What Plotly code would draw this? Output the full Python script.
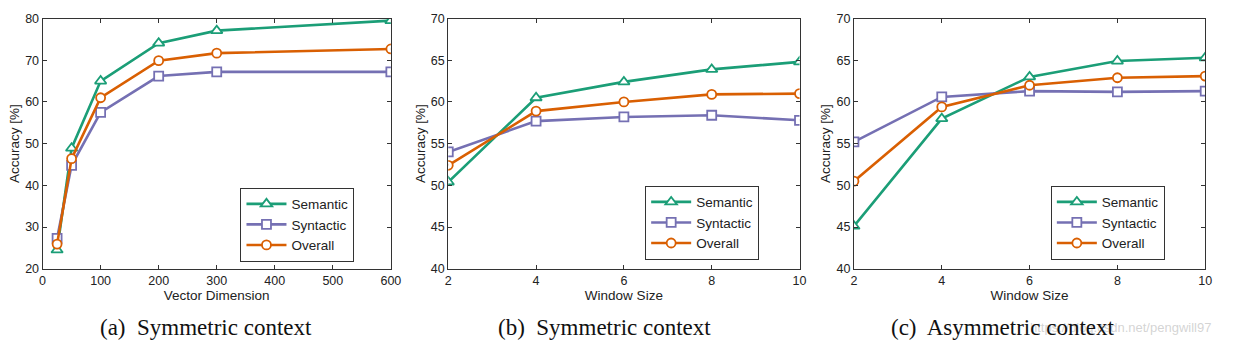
import plotly.graph_objects as go

# ---- data ----
dims = [25, 50, 100, 200, 300, 600]
sem_a = [24.5, 48.9, 65.0, 74.1, 77.1, 79.5]
syn_a = [27.3, 44.8, 57.5, 66.2, 67.2, 67.2]
ovr_a = [25.9, 46.4, 61.0, 69.9, 71.7, 72.7]

win = [2, 4, 6, 8, 10]
sem_b = [50.4, 60.5, 62.4, 63.9, 64.8]
syn_b = [54.0, 57.7, 58.2, 58.4, 57.8]
ovr_b = [52.4, 58.9, 60.0, 60.9, 61.0]

sem_c = [45.1, 58.0, 63.0, 64.9, 65.3]
syn_c = [55.2, 60.6, 61.3, 61.2, 61.3]
ovr_c = [50.5, 59.4, 62.0, 62.9, 63.1]

series_names = ["Semantic", "Syntactic", "Overall"]
colors = ["#1b9e77", "#7570b3", "#d95f02"]
symbols = ["triangle-up", "square", "circle"]
captions = ["(a)  Symmetric context", "(b)  Symmetric context", "(c)  Asymmetric context"]
xtitles = ["Vector Dimension", "Window Size", "Window Size"]

W, H = 1234, 354
panels = [
    (dims, [sem_a, syn_a, ovr_a], (40, 392), [0, 600], list(range(0, 601, 100)), [20, 80], list(range(20, 81, 10)), (240, 188)),
    (win, [sem_b, syn_b, ovr_b], (450, 805), [2, 10], win, [40, 70], list(range(40, 71, 5)), (649, 186)),
    (win, [sem_c, syn_c, ovr_c], (860, 1215), [2, 10], win, [40, 70], list(range(40, 71, 5)), (1059, 186)),
]
top_px, bot_px = 12, 272.5

fig = go.Figure()
layout = {}
sans = "Liberation Sans, Arial, sans-serif"
tickfont = dict(family=sans, size=12.5, color="#222")
titlefont = dict(family=sans, size=13.5, color="#222")
for i, (xs, ys_list, (x0, x1), xr, xt, yr, yt, (lx, ly)) in enumerate(panels):
    n = "" if i == 0 else str(i + 1)
    leg = "legend" + n
    for name, ys, c, s in zip(series_names, ys_list, colors, symbols):
        fig.add_trace(go.Scatter(
            x=xs, y=ys, name=name, mode="lines+markers",
            line=dict(color=c, width=2.6),
            marker=dict(symbol=s, size=9 if s != "triangle-up" else 10, color="white",
                        line=dict(color=c, width=1.8)),
            xaxis="x" + n, yaxis="y" + n, legend=leg,
        ))
    layout["xaxis" + n] = dict(
        domain=[x0 / W, x1 / W], range=xr, tickvals=xt, anchor="y" + n,
        showline=True, linecolor="#333", linewidth=1, mirror="ticks",
        ticks="inside", ticklen=4, tickcolor="#333", showgrid=False, zeroline=False,
        tickfont=tickfont,
        title=dict(text=xtitles[i], font=titlefont, standoff=0),
    )
    layout["yaxis" + n] = dict(
        domain=[1 - bot_px / H, 1 - top_px / H], range=yr, tickvals=yt, anchor="x" + n,
        showline=True, linecolor="#333", linewidth=1, mirror="ticks",
        ticks="inside", ticklen=4, tickcolor="#333", showgrid=False, zeroline=False,
        tickfont=tickfont,
        title=dict(text="Accuracy [%]", font=titlefont, standoff=2),
    )
    layout[leg] = dict(
        x=lx / W, y=1 - ly / H, xanchor="left", yanchor="top",
        bordercolor="#333", borderwidth=1, bgcolor="white",
        font=dict(family=sans, size=13.5, color="#222"),
        tracegroupgap=0, itemwidth=40,
    )

fig.update_layout(**layout)
fig.update_layout(
    width=W, height=H, margin=dict(l=0, r=0, t=0, b=0),
    paper_bgcolor="white", plot_bgcolor="white", showlegend=True,
)

centers = [205, 608, 1011]
fig.add_annotation(text="https://blog.csdn.net/pengwill97", x=1223 / W, y=1 - 334 / H,
                   xref="paper", yref="paper", xanchor="right", yanchor="middle",
                   showarrow=False, font=dict(family=sans, size=13, color="rgba(175,175,175,0.55)"))
for c, t in zip(centers, captions):
    fig.add_annotation(text=t, x=c / W, y=1 - 334 / H, xref="paper", yref="paper",
                       xanchor="center", yanchor="middle", showarrow=False,
                       font=dict(family="Liberation Serif, Times New Roman, serif", size=23, color="#111"))

fig.write_html("out.html")
